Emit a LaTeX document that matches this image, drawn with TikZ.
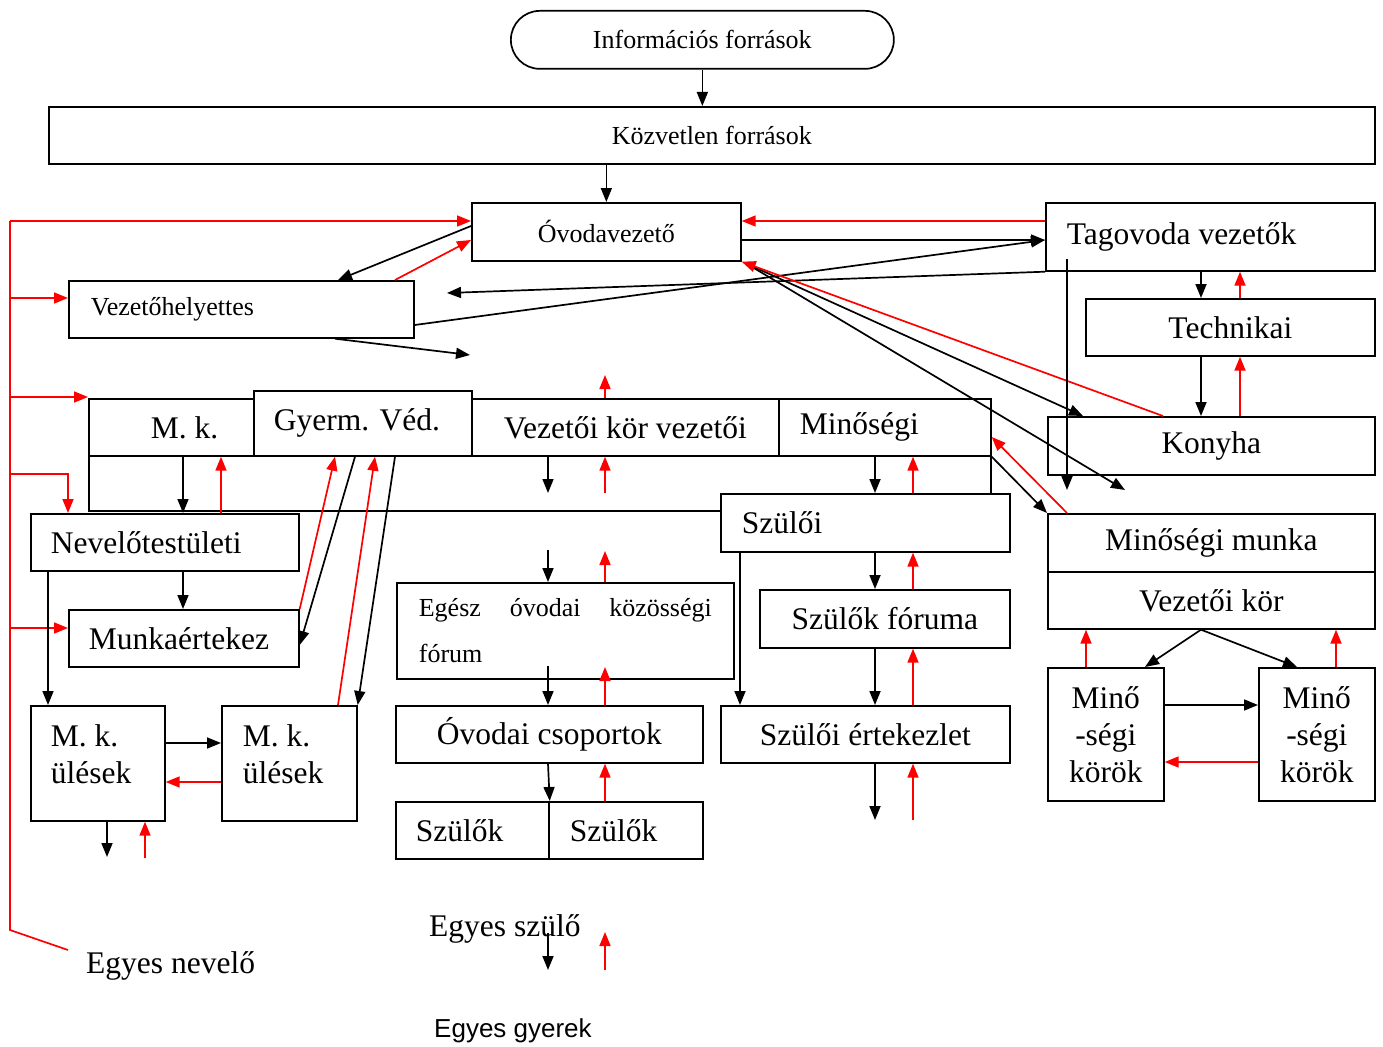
\documentclass[tikz,border=0pt]{standalone}
\usepackage{fontspec}
\setmainfont{Liberation Serif}
\newfontfamily\arialfont{Liberation Sans}
\usetikzlibrary{arrows.meta}

\begin{document}
\begin{tikzpicture}[x=1pt,y=-1pt,
  box/.style={draw,line width=1.7pt,anchor=north west,inner sep=0pt},
  lbox/.style 2 args={box,align=flush left,inner xsep=#1,text width=#2},
  big/.style={font=\fontsize{31.5}{37}\selectfont},
  small/.style={font=\fontsize{26}{31}\selectfont},
  blk/.style={line width=1.7pt,-{Triangle[length=14pt,width=11pt]}},
  rd/.style={blk,red}]
\useasboundingbox (0,0) rectangle (1383,1046);

% top
\node[box,small,rounded corners=29pt,minimum width=383pt,minimum height=58pt] (info) at (510,10) {Információs források};
\node[box,small,minimum width=1326pt,minimum height=57pt] (kozv) at (48,106) {Közvetlen források};
\node[box,small,minimum width=269pt,minimum height=58pt] (ovo) at (471,202) {Óvodavezető};
\node[lbox={21pt}{287pt},big,minimum height=68pt] (tag) at (1045,202) {Tagovoda vezetők};
\node[lbox={22pt}{301pt},small,minimum height=57pt] (vh) at (68,280) {Vezetőhelyettes};
\node[box,big,minimum width=289pt,minimum height=57pt] (tech) at (1085,298) {Technikai};
\node[box,big,minimum width=327pt,minimum height=58pt] (kony) at (1047,416) {Konyha};

% row of leaders
\node[box,minimum width=902pt,minimum height=112pt] (mkbox) at (88,398) {};
\node[lbox={20pt}{125pt},big,minimum height=57pt] (mk) at (88,398) {\hspace*{42pt}M. k.};
\node[lbox={20pt}{178pt},big,minimum height=65pt,fill=white] (gyv) at (253,390) {Gyerm. Véd.};
\node[box,big,minimum width=307pt,minimum height=57pt] (vkv) at (471,398) {Vezetői kör vezetői};
\node[lbox={21pt}{170pt},big,minimum height=57pt] (min) at (778,398) {Minőségi};

% left column
\node[lbox={20pt}{228pt},big,minimum height=57pt] (nev) at (30,513) {Nevelőtestületi};
\node[lbox={20pt}{190pt},big,minimum height=57pt] (munka) at (68,609) {Munkaértekez};
\node[lbox={20pt}{94pt},big,minimum height=115pt,text depth=56pt] (mku1) at (30,705) {M. k.\\ülések};
\node[lbox={21pt}{93pt},big,minimum height=115pt,text depth=56pt] (mku2) at (221,705) {M. k.\\ülések};

% middle column
\node[lbox={22pt}{293pt},font=\fontsize{26}{46}\selectfont,minimum height=96pt] (egesz) at (396,582) {Egész\hfill óvodai\hfill közösségi\\fórum};
\node[box,big,minimum width=307pt,minimum height=57pt] (ovcs) at (395,705) {Óvodai csoportok};
\node[lbox={20pt}{113pt},big,minimum height=57pt] (szk1) at (395,801) {Szülők};
\node[lbox={21pt}{112pt},big,minimum height=57pt] (szk2) at (548,801) {Szülők};

% parents
\node[lbox={21pt}{247pt},big,minimum height=58pt,fill=white] (szi) at (720,493) {Szülői};
\node[box,big,minimum width=250pt,minimum height=58pt] (forum) at (759,589) {Szülők fóruma};
\node[box,big,minimum width=289pt,minimum height=57pt] (szert) at (720,705) {Szülői értekezlet};

% quality
\node[box,big,minimum width=327pt,minimum height=58pt] (mm) at (1047,513) {Minőségi munka};
\node[box,big,minimum width=327pt,minimum height=57pt] (vk) at (1047,571) {Vezetői kör};
\node[box,big,align=center,minimum width=116pt,minimum height=133pt] (mink1) at (1047,667) {Minő\\-ségi\\körök};
\node[box,big,align=center,minimum width=116pt,minimum height=133pt] (mink2) at (1258,667) {Minő\\-ségi\\körök};

% single persons
\node[big,anchor=base west,inner sep=0pt] (nevelo) at (86,973) {Egyes nevelő};
\node[big,anchor=base west,inner sep=0pt] (szulo) at (429,936) {Egyes szülő};
\node[anchor=base west,inner sep=0pt,font=\arialfont\fontsize{26}{31}\selectfont] (gyerek) at (434,1037) {Egyes gyerek};

% free ends
\coordinate (bus) at (10,221);
\coordinate (busend) at (10,930);
\coordinate (nevfree) at (68,950);
\coordinate (vhA) at (447,293);
\coordinate (vhB) at (470,355);
\coordinate (konyB) at (1125,490);
\coordinate (tagtop) at (1067,259);
\coordinate (tagbot) at (1067,490);

% red bus on the left
\draw[red,line width=1.7pt] (bus) -- (busend) -- (nevfree);
\draw[rd] (bus) -- (ovo.west |- bus);
\foreach \y/\t in {298/vh,397/mk,628/munka}
  \draw[rd] (10,\y) -- (\t.west |- 10,\y);
\draw[rd] (10,474) -- (68,474) -- (nev.north -| 68,474);

% top
\draw[blk] (info.south) -- (kozv.north -| info.south);
\draw[blk] (kozv.south -| ovo.north) -- (ovo.north);

% leader and deputy
\draw[blk] (ovo.west |- 0,226) -- (vh.north -| 338,0);
\draw[rd] (vh.north -| 395,0) -- (ovo.west |- 0,240);
\draw[rd] (tag.west |- 0,221) -- (ovo.east |- 0,221);
\draw[blk] (ovo.east |- 0,240) -- (tag.west |- 0,240);
\draw[blk] (vh.east |- 0,325) -- (tag.west |- 0,240);
\draw[blk] (tag.south west) -- (vhA);
\draw[blk] (vh.south -| 335,0) -- (vhB);

% leader and kitchen
\draw[blk] ([shift={(5,2)}]ovo.south east) -- (kony.north -| 1083,0);
\draw[blk] ([shift={(10,5)}]ovo.south east) -- (konyB);
\draw[rd] (kony.north -| 1163,0) -- (ovo.south east);
\draw[blk] (tagtop) -- (tagbot);
\foreach \a/\b in {tag/tech,tech/kony} {
  \draw[blk] (\a.south -| 1201,0) -- (\b.north -| 1201,0);
  \draw[rd] (\b.north -| 1240,0) -- (\a.south -| 1240,0);
}

% quality work
\draw[blk] (min.south east) -- (mm.north west);
\draw[rd] (mm.north -| 1067,0) -- (min.east |- 0,437);
\draw[blk] (vk.south -| 1201,0) -- (mink1.north -| 1145,0);
\draw[blk] (vk.south -| 1201,0) -- (mink2.north -| 1297,0);
\draw[rd] (mink1.north -| 1086,0) -- (vk.south -| 1086,0);
\draw[rd] (mink2.north -| 1336,0) -- (vk.south -| 1336,0);
\draw[blk] (mink1.east |- 0,705) -- (mink2.west |- 0,705);
\draw[rd] (mink2.west |- 0,762) -- (mink1.east |- 0,762);

% left column
\draw[blk] (mk.south -| 183,0) -- (nev.north -| 183,0);
\draw[rd] (nev.north -| 221,0) -- (mk.south -| 221,0);
\draw[blk] (nev.south -| 183,0) -- (munka.north -| 183,0);
\draw[blk] (nev.south -| 48,0) -- (mku1.north -| 48,0);
\draw[rd] (munka.north east) -- (gyv.south -| 335,0);
\draw[blk] (gyv.south -| 355,0) -- (munka.east |- 0,645);
\draw[rd] (mku2.north -| 338,0) -- (gyv.south -| 375,0);
\draw[blk] (gyv.south -| 395,0) -- (mku2.north east);
\draw[blk] (mku1.east |- 0,743) -- (mku2.west |- 0,743);
\draw[rd] (mku2.west |- 0,782) -- (mku1.east |- 0,782);
\draw[blk] (mku1.south -| 107,0) -- (107,857);
\draw[rd] (145,858) -- (mku1.south -| 145,0);

% middle column
\draw[rd] (vkv.north -| 605,0) -- (605,375);
\draw[blk] (vkv.south -| 548,0) -- (548,493);
\draw[rd] (605,493) -- (vkv.south -| 605,0);
\draw[blk] (548,550) -- (egesz.north -| 548,0);
\draw[rd] (egesz.north -| 605,0) -- (605,551);
\draw[blk] (548,666) -- (ovcs.north -| 548,0);
\draw[rd] (ovcs.north -| 605,0) -- (605,667);
\draw[blk] (ovcs.south -| 548,0) -- (szk1.north east);
\draw[rd] (szk2.north -| 605,0) -- (ovcs.south -| 605,0);
\draw[blk] (548,933) -- (548,970);
\draw[rd] (605,970) -- (605,932);

% parents column
\foreach \a/\b in {min/szi,szi/forum,forum/szert} {
  \draw[blk] (\a.south -| 875,0) -- (\b.north -| 875,0);
  \draw[rd] (\b.north -| 913,0) -- (\a.south -| 913,0);
}
\draw[blk] (szi.south -| 740,0) -- (szert.north -| 740,0);
\draw[blk] (szert.south -| 875,0) -- (875,820);
\draw[rd] (913,820) -- (szert.south -| 913,0);
\end{tikzpicture}
\end{document}
